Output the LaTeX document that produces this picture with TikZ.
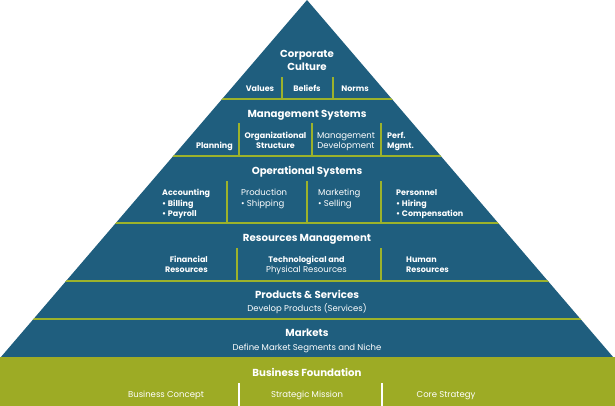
\documentclass[tikz,border=0pt]{standalone}
\usepackage{fontspec}
\setmainfont{Poppins}
\definecolor{pblue}{RGB}{31,94,126}
\definecolor{lgreen}{RGB}{156,178,43}
\definecolor{fgreen}{RGB}{157,171,37}
\begin{document}
\begin{tikzpicture}[x=1pt,y=-1pt,
  hdr/.style={text=white,inner sep=0pt,anchor=mid,yshift=-1.5pt,font=\bfseries\fontsize{10.2}{11}\selectfont},
  itm/.style={text=white,inner sep=0pt,anchor=mid,yshift=-1.2pt,font=\fontsize{8.5}{9}\selectfont},
  itb/.style={itm,font=\bfseries\fontsize{8}{9}\selectfont},
  gline/.style={draw=lgreen,line width=2.6pt},
  vline/.style={draw=lgreen,line width=2pt},
  wline/.style={draw=white,line width=2pt}]
\useasboundingbox (0,0) rectangle (615,406);
% shapes
\fill[pblue] (307,0) -- (613.5,357.5) -- (0.5,357.5) -- cycle;
\fill[fgreen] (0,357) rectangle (615,406);
\begin{scope}
\clip (307,0) -- (613.5,357.5) -- (0.5,357.5) -- cycle;
\foreach \yy in {99,156,223,281,319}
  \draw[gline] (0,\yy) -- (615,\yy);
\end{scope}
\draw[vline] (282,77) -- (282,99);
\draw[vline] (333,77) -- (333,99);
\draw[vline] (239,123) -- (239,156);
\draw[vline] (312,123) -- (312,156);
\draw[vline] (381,123) -- (381,156);
\draw[vline] (227,181) -- (227,223);
\draw[vline] (307,181) -- (307,223);
\draw[vline] (381,181) -- (381,223);
\draw[vline] (237,248) -- (237,281);
\draw[vline] (381,248) -- (381,281);
\draw[wline] (239,383) -- (239,406);
\draw[wline] (382,383) -- (382,406);
% tier 1
\node[hdr] (corp1) at (307,53) {Corporate};
\node[hdr] (corp2) at (307,66) {Culture};
\node[itb] (val) at (260,88) {Values};
\node[itb] (bel) at (307,88) {Beliefs};
\node[itb] (nor) at (355,88) {Norms};
% tier 2
\node[hdr] (mgmt) at (307,113) {Management Systems};
\node[itb,anchor=mid east] (plan) at (233,145) {Planning};
\node[itb] (org1) at (275.5,135) {Organizational};
\node[itb] (org2) at (275.5,145) {Structure};
\node[itm] (dev1) at (346,135) {Management};
\node[itm] (dev2) at (346,145) {Development};
\node[itb,anchor=mid west] (perf1) at (387,135) {Perf.};
\node[itb,anchor=mid west] (perf2) at (387,145) {Mgmt.};
% tier 3
\node[hdr] (ops) at (307,170) {Operational Systems};
\node[itb,anchor=mid west] (acc1) at (162,192) {Accounting};
\node[itb,anchor=mid west] (acc2) at (162,202.5) {• Billing};
\node[itb,anchor=mid west] (acc3) at (162,213) {• Payroll};
\node[itm,anchor=mid west] (pro1) at (241,192) {Production};
\node[itm,anchor=mid west] (pro2) at (241,202.5) {• Shipping};
\node[itm,anchor=mid west] (mkt1) at (318,192) {Marketing};
\node[itm,anchor=mid west] (mkt2) at (318,202.5) {• Selling};
\node[itb,anchor=mid west] (per1) at (396,192) {Personnel};
\node[itb,anchor=mid west] (per2) at (396,202.5) {• Hiring};
\node[itb,anchor=mid west] (per3) at (396,213) {• Compensation};
% tier 4
\node[hdr] (res) at (307,237) {Resources Management};
\node[itb,anchor=mid east] (fin1) at (208,259) {Financial};
\node[itb,anchor=mid east] (fin2) at (208,269) {Resources};
\node[itb] (tec1) at (306.5,259) {Technological and};
\node[itm] (tec2) at (306.5,269) {Physical Resources};
\node[itb,anchor=mid west] (hum1) at (406,259) {Human};
\node[itb,anchor=mid west] (hum2) at (406,269) {Resources};
% tier 5
\node[hdr] (prod) at (307,294) {Products \& Services};
\node[itm] (prodd) at (307,308) {Develop Products (Services)};
% tier 6
\node[hdr] (mark) at (307,332) {Markets};
\node[itm] (markd) at (307,347) {Define Market Segments and Niche};
% foundation
\node[hdr] (fnd) at (307,372) {Business Foundation};
\node[itm] (bc) at (166,394) {Business Concept};
\node[itm] (sm) at (307,394) {Strategic Mission};
\node[itm] (cs) at (446,394) {Core Strategy};
\end{tikzpicture}
\end{document}
